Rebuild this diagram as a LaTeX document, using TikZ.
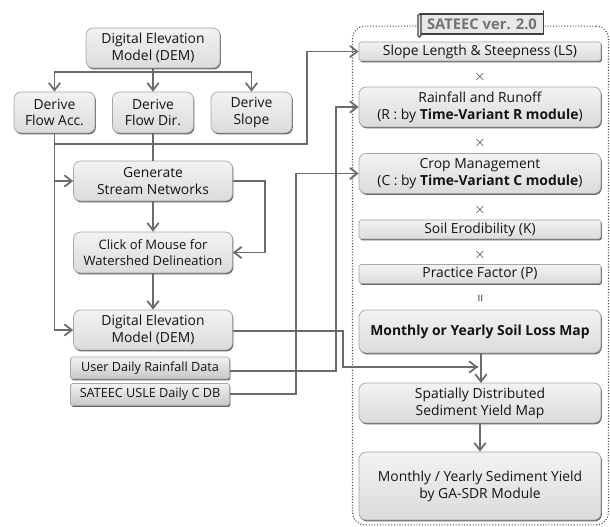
\documentclass[tikz,border=0pt]{standalone}
\usepackage{fontspec}
\setmainfont{Open Sans}
\usetikzlibrary{arrows.meta, shadows}

\tikzset{
    plate/.style={draw=black!35, line width=0.4pt, top color=black!5, bottom color=black!14,
                  align=center, inner sep=0pt, text=black!92, font=\fontsize{7.9}{9.6}\selectfont,
                  drop shadow={shadow xshift=0.5pt, shadow yshift=-0.8pt, fill=black!60, opacity=1}},
    softbox/.style={plate, rounded corners=4pt},
    flatbox/.style={plate, rounded corners=1pt},
    flow/.style={draw=black!58, line width=1pt},
    arrowflow/.style={flow, -{Straight Barb[length=4.2pt, width=6.5pt]}},
    factor/.style={text=black!75, font=\fontsize{8}{9}\selectfont}
}

\begin{document}
\begin{tikzpicture}[x=0.02cm, y=0.02cm]
    \useasboundingbox (0,0) rectangle (610,-527);

    \node[draw=black!70, densely dotted, line width=0.6pt, rounded corners=7pt,
          minimum width=5.12cm, minimum height=9.98cm] (frame) at (480.5,-275.5) {};

    \node[softbox, minimum width=2.68cm, minimum height=0.80cm] (dem) at (153,-48)
        {Digital Elevation\\Model (DEM)};
    \node[softbox, minimum width=1.62cm, minimum height=0.82cm] (acc) at (54.5,-112.5)
        {Derive\\Flow Acc.};
    \node[softbox, minimum width=1.62cm, minimum height=0.82cm] (dir) at (153,-112.5)
        {Derive\\Flow Dir.};
    \node[softbox, minimum width=1.62cm, minimum height=0.82cm] (slope) at (251.5,-112.5)
        {Derive\\Slope};
    \node[softbox, minimum width=3.18cm, minimum height=0.80cm] (stream) at (153,-181)
        {Generate\\Stream Networks};
    \node[softbox, minimum width=3.18cm, minimum height=0.82cm, font=\fontsize{7.4}{9.1}\selectfont]
        (click) at (153,-252.5) {Click of Mouse for\\Watershed Delineation};
    \node[softbox, minimum width=3.18cm, minimum height=0.80cm] (demout) at (153,-330)
        {Digital Elevation\\Model (DEM)};
    \node[flatbox, minimum width=3.18cm, minimum height=0.44cm, bottom color=black!22,
          font=\fontsize{7.2}{9}\selectfont] (rain) at (150,-368) {User Daily Rainfall Data};
    \node[flatbox, minimum width=3.18cm, minimum height=0.44cm, bottom color=black!22,
          font=\fontsize{7.2}{9}\selectfont] (cdb) at (150,-394.5) {SATEEC USLE Daily C DB};

    \node[flatbox, minimum width=4.84cm, minimum height=0.38cm] (ls) at (480,-51.5)
        {Slope Length \& Steepness (LS)};
    \node[factor] (x1) at (480,-77) {$\times$};
    \node[softbox, minimum width=4.84cm, minimum height=0.80cm] (rr) at (480,-107)
        {Rainfall and Runoff\\(R : by \textbf{Time-Variant R module})};
    \node[factor] (x2) at (480,-143) {$\times$};
    \node[softbox, minimum width=4.84cm, minimum height=0.80cm] (crop) at (480,-173.5)
        {Crop Management\\(C : by \textbf{Time-Variant C module})};
    \node[factor] (x3) at (480,-210) {$\times$};
    \node[flatbox, minimum width=4.84cm, minimum height=0.38cm] (soil) at (480,-229.5)
        {Soil Erodibility (K)};
    \node[factor] (x4) at (480,-255) {$\times$};
    \node[flatbox, minimum width=4.84cm, minimum height=0.38cm] (practice) at (480,-274)
        {Practice Factor (P)};
    \node[factor, rotate=90] (eq) at (482,-298) {=};
    \node[softbox, minimum width=4.84cm, minimum height=0.86cm] (loss) at (480,-331.5)
        {\textbf{Monthly or Yearly Soil Loss Map}};
    \node[softbox, minimum width=4.84cm, minimum height=0.80cm] (sed) at (480,-403)
        {Spatially Distributed\\Sediment Yield Map};
    \node[softbox, minimum width=4.84cm, minimum height=1.36cm] (ga) at (480,-486)
        {Monthly / Yearly Sediment Yield\\by GA-SDR Module};

    \node[draw=black!75, line width=0.8pt, fill=black!9, minimum width=2.46cm, minimum height=0.40cm,
          inner sep=0pt, text=black!55, font=\bfseries\fontsize{8.4}{9.9}\selectfont] (title) at (482,-24)
        {SATEEC ver. 2.0};
    \draw[draw=black!75, line width=0.6pt, fill=black!9, rounded corners=0.8pt]
        (418,-14) rectangle (421,-37);
    \draw[draw=black!75, line width=1pt, line cap=round] (543.5,-11) -- (543.5,-15);

    \coordinate (branch) at (153,-72);
    \coordinate (jacc) at (55,-144);
    \coordinate (jstream) at (55,-181);
    \coordinate (turnls) at (307,-144);
    \coordinate (turnnet) at (265,-181);
    \coordinate (turnrain) at (336,-371);
    \coordinate (turncdb) at (296,-394);
    \coordinate (turndem) at (343,-331);
    \coordinate (merge) at (478,-367);

    \draw[flow] (dem.south) -- (branch);
    \draw[arrowflow] (branch) -| (acc.north);
    \draw[arrowflow] (branch) -- (dir.north);
    \draw[arrowflow] (branch) -| (slope.north);
    \draw[arrowflow] (acc.south) |- (demout.west);
    \draw[flow] (dir.south) -- (stream.north);
    \draw[arrowflow] (jstream) -- (stream.west);
    \draw[arrowflow] (jacc) -- (turnls) |- (ls.west);
    \draw[arrowflow] (stream.east) -- (turnnet) |- (click.east);
    \draw[arrowflow] (stream.south) -- (click.north);
    \draw[arrowflow] (click.south) -- (demout.north);
    \draw[flow] (demout.east |- turndem) -- (turndem) |- (merge);
    \draw[arrowflow] (turndem |- merge) -- (merge);
    \draw[arrowflow] (rain.east |- turnrain) -- (turnrain) |- (rr.west);
    \draw[arrowflow] (cdb.east |- turncdb) -- (turncdb) |- (crop.west);
    \draw[arrowflow] (481,-353) -- (481,-383);
    \draw[arrowflow] (sed.south) -- (ga.north);
\end{tikzpicture}
\end{document}
